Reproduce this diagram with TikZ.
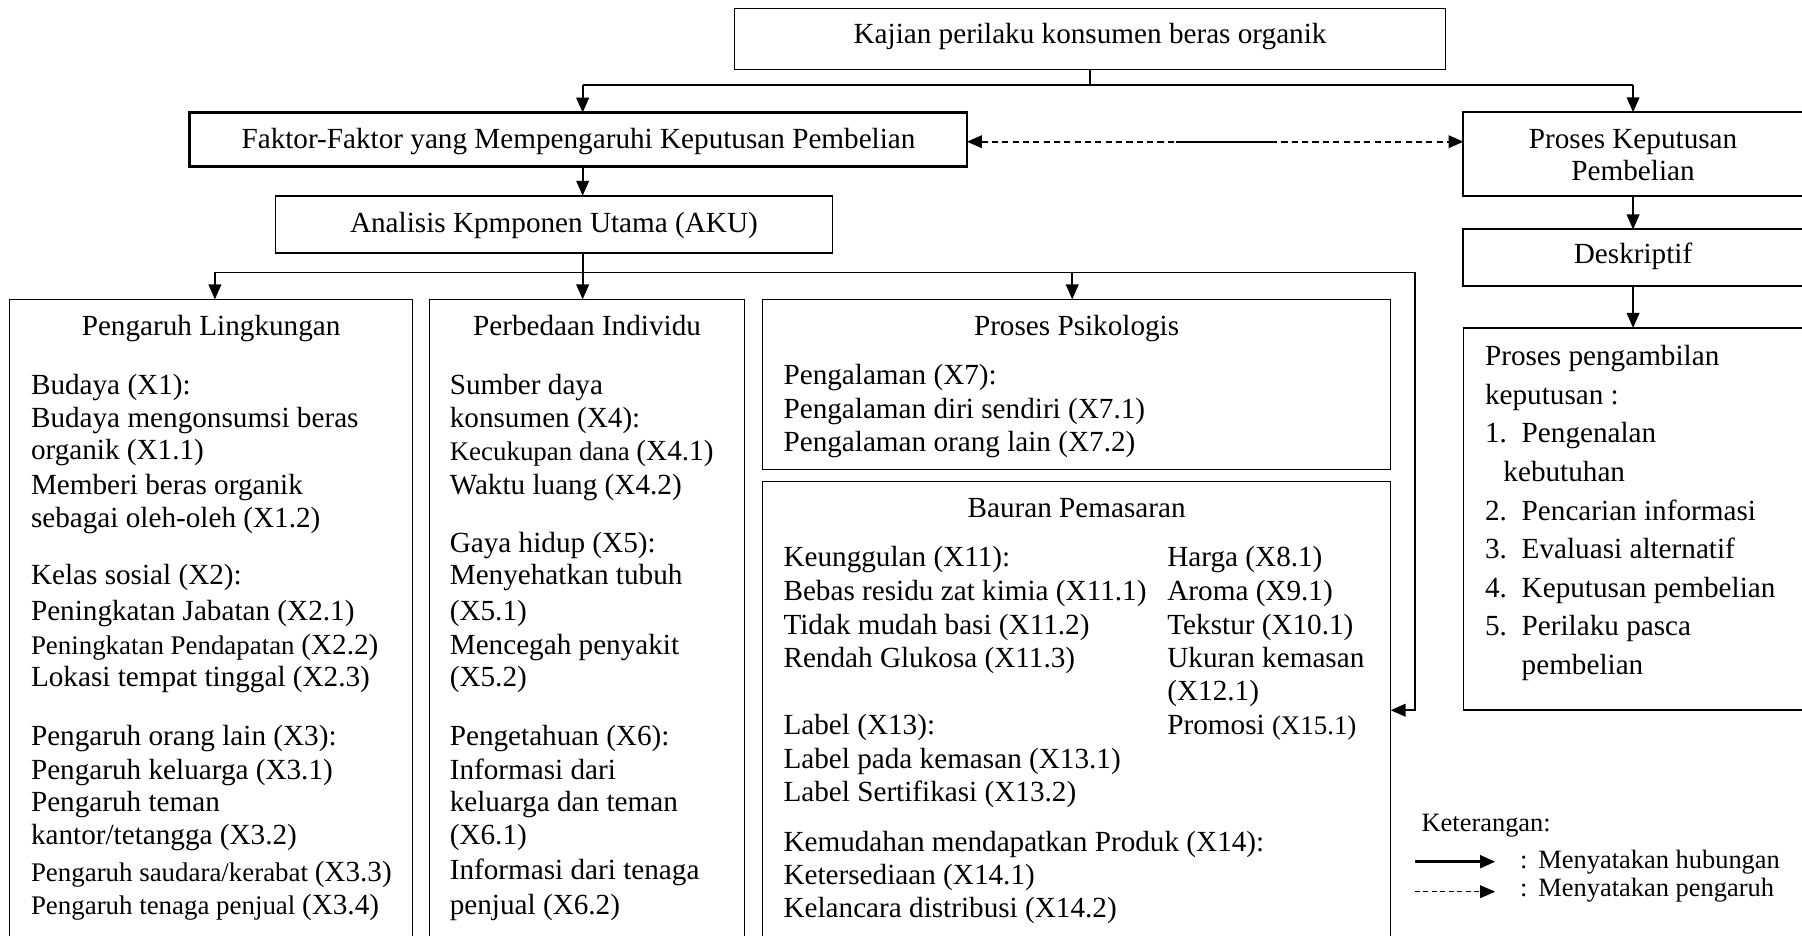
\documentclass[tikz,border=0pt]{standalone}
\usepackage{fontspec}
\setmainfont{Liberation Serif}
\usetikzlibrary{arrows.meta}
\newcommand{\bodyfs}{\fontsize{12.7}{14.5}\selectfont}
\newcommand{\smallfs}{\fontsize{11.7}{13}\selectfont}
\newcommand{\legfs}{\fontsize{11.5}{13}\selectfont}
\begin{document}
\begin{tikzpicture}[x=0.5pt,y=-0.5pt,font=\bodyfs,
  >={Triangle[length=6.5pt,width=5.5pt]},
  bx/.style={draw,line width=0.55pt,inner sep=0pt,outer sep=0pt},
  tl/.style={inner sep=0pt,outer sep=0pt,anchor=base west},
  ttl/.style={inner sep=0pt,outer sep=0pt,anchor=base},
  con/.style={line width=0.75pt},
  dsh/.style={con,dash pattern=on 2.7pt off 1.8pt},
]
\useasboundingbox (0,0) rectangle (1568,814);
\fill[white] (0,0) rectangle (1568,814);

% ---------- boxes ----------
\node[bx,line width=0.6pt,minimum width=309.5pt,minimum height=26.5pt] (kajian) at (948.5,33.8) {};
\node[bx,line width=1pt,minimum width=338.2pt,minimum height=23.5pt] (faktor) at (503.2,121.5) {};
\node[bx,line width=0.75pt,minimum width=242.3pt,minimum height=24.8pt] (aku) at (482,195.1) {};
\node[bx,line width=0.9pt,minimum width=148.8pt,minimum height=36.3pt] (pk) at (1422.2,134) {};
\node[bx,line width=0.9pt,minimum width=148.8pt,minimum height=24.5pt] (desk) at (1422.2,224.1) {};
\node[bx,line width=0.8pt,minimum width=148.8pt,minimum height=166.35pt] (pp) at (1422.2,451.65) {};
\node[bx,minimum width=175.35pt,minimum height=284.75pt] (pl) at (183.65,545.25) {};
\node[bx,minimum width=136.85pt,minimum height=284.75pt] (pi) at (510.85,545.25) {};
\node[bx,minimum width=273.2pt,minimum height=73.9pt] (ps) at (936.8,334.4) {};
\node[bx,minimum width=273.2pt,minimum height=205.45pt] (bp) at (936.8,624.55) {};

% ---------- box titles ----------
\node[ttl] (kajian-t) at (948.5,38) {Kajian perilaku konsumen beras organik};
\node[ttl] (faktor-t) at (503.4,129.6) {Faktor-Faktor yang Mempengaruhi Keputusan Pembelian};
\node[ttl] (aku-t) at (482,202) {Analisis Kpmponen Utama (AKU)};
\node[ttl] (pk-t1) at (1421,129.3) {Proses Keputusan};
\node[ttl] (pk-t2) at (1421,156.8) {Pembelian};
\node[ttl] (desk-t) at (1421,229.4) {Deskriptif};

% ---------- connectors ----------
\coordinate (ja) at (507,74);
\coordinate (jb) at (1421,74);
\draw[con] (kajian.south) -- (kajian.south |- ja);
\draw[con] (ja) -- (jb);
\draw[con,->] (ja) -- (ja |- faktor.north);
\draw[con,->] (jb) -- (jb |- pk.north);
\draw[con,->] (ja |- faktor.south) -- (ja |- aku.north);
\coordinate (jc) at (507,237);
\coordinate (jl) at (187,237);
\coordinate (jm) at (933,237);
\coordinate (jr) at (1231,237);
\coordinate (jd) at (1231,618);
\draw[con] (ja |- aku.south) -- (jc);
\draw[con] (jl) -- (jr);
\draw[con,->] (jl) -- (jl |- pl.north);
\draw[con,->] (jc) -- (jc |- pi.north);
\draw[con,->] (jm) -- (jm |- ps.north);
\draw[con,->] (jr) -- (jd) -- (jd -| bp.east);
\draw[con,->] (jb |- pk.south) -- (jb |- desk.north);
\draw[con,->] (jb |- desk.south) -- (jb |- pp.north);
\coordinate (da) at (1023.2,123.3);
\coordinate (db) at (1108.6,123.3);
\draw[dsh,<->] (faktor.east |- da) -- (pk.west |- da);
\draw[con] (da) -- (db);

% ---------- Pengaruh Lingkungan ----------
\node[ttl] (pl-t) at (183.7,292) {Pengaruh Lingkungan};
\foreach \yy/\txt [count=\i] in {343/{Budaya (X1):},372/{Budaya mengonsumsi beras},400/{organik (X1.1)},430/{Memberi beras organik},459/{sebagai oleh-oleh (X1.2)},509/{Kelas sosial (X2):},540/{Peningkatan Jabatan (X2.1)},569.5/{{\smallfs Peningkatan Pendapatan }(X2.2)},597/{Lokasi tempat tinggal (X2.3)},649/{Pengaruh orang lain (X3):},678/{Pengaruh keluarga (X3.1)},706.5/{Pengaruh teman},735/{kantor/tetangga (X3.2)},767/{{\smallfs Pengaruh saudara/kerabat }(X3.3)},796/{{\smallfs Pengaruh tenaga penjual }(X3.4)}}
  \node[tl] (pl-\i) at (27,\yy) {\txt};

% ---------- Perbedaan Individu ----------
\node[ttl] (pi-t) at (510.8,292) {Perbedaan Individu};
\foreach \yy/\txt [count=\i] in {343/{Sumber daya},372/{konsumen (X4):},401/{{\smallfs Kecukupan dana }(X4.1)},430/{Waktu luang (X4.2)},481/{Gaya hidup (X5):},509/{Menyehatkan tubuh},540/{(X5.1)},569.5/{Mencegah penyakit},597/{(X5.2)},649/{Pengetahuan (X6):},678/{Informasi dari},706.5/{keluarga dan teman},735/{(X6.1)},765.6/{Informasi dari tenaga},796/{penjual (X6.2)}}
  \node[tl] (pi-\i) at (391.4,\yy) {\txt};

% ---------- Proses Psikologis ----------
\node[ttl] (ps-t) at (936.8,292) {Proses Psikologis};
\foreach \yy/\txt [count=\i] in {334.4/{Pengalaman (X7):},364/{Pengalaman diri sendiri (X7.1)},393/{Pengalaman orang lain (X7.2)}}
  \node[tl] (ps-\i) at (681.8,\yy) {\txt};

% ---------- Bauran Pemasaran ----------
\node[ttl] (bp-t) at (936.8,450) {Bauran Pemasaran};
\foreach \yy/\txt [count=\i] in {493/{Keunggulan (X11):},522.6/{Bebas residu zat kimia (X11.1)},552.4/{Tidak mudah basi (X11.2)},581/{Rendah Glukosa (X11.3)},639/{Label (X13):},669/{Label pada kemasan (X13.1)},697.6/{Label Sertifikasi (X13.2)},740.6/{Kemudahan mendapatkan Produk (X14):},769.3/{Ketersediaan (X14.1)},798/{Kelancara distribusi (X14.2)}}
  \node[tl] (bpl-\i) at (681.8,\yy) {\txt};
\foreach \yy/\txt [count=\i] in {493/{Harga (X8.1)},522.6/{Aroma (X9.1)},552.4/{Tekstur (X10.1)},581/{Ukuran kemasan},609.7/{(X12.1)},639/{Promosi {\smallfs (X15.1)}}}
  \node[tl] (bpr-\i) at (1015.8,\yy) {\txt};

% ---------- Proses pengambilan keputusan ----------
\node[tl] (pp-a) at (1292.2,318.2) {Proses pengambilan};
\node[tl] (pp-b) at (1292.2,351.8) {keputusan :};
\foreach \yy/\num/\txt [count=\i] in {385.4/1./{Pengenalan},452.6/2./{Pencarian informasi},486.2/3./{Evaluasi alternatif},519.8/4./{Keputusan pembelian},553.4/5./{Perilaku pasca}}{
  \node[tl] (ppn-\i) at (1292.2,\yy) {\num};
  \node[tl] (ppt-\i) at (1324.1,\yy) {\txt};
}
\node[tl] (pp-c) at (1308.2,419) {kebutuhan};
\node[tl] (pp-d) at (1324.1,587) {pembelian};

% ---------- Legend ----------
\node[tl,font=\legfs] (leg) at (1237,723.7) {Keterangan:};
\coordinate (la1) at (1231,749.8);
\coordinate (la2) at (1301,749.8);
\coordinate (lb1) at (1231,775.9);
\coordinate (lb2) at (1301,775.9);
\draw[line width=1.15pt,->] (la1) -- (la2);
\draw[line width=0.6pt,dash pattern=on 2.2pt off 1.5pt,->] (lb1) -- (lb2);
\node[tl,font=\legfs] (lc1) at (1322.7,755.6) {:};
\node[tl,font=\legfs] (lt1) at (1338.6,755.6) {Menyatakan hubungan};
\node[tl,font=\legfs] (lc2) at (1322.7,780.3) {:};
\node[tl,font=\legfs] (lt2) at (1338.6,780.3) {Menyatakan pengaruh};
\end{tikzpicture}
\end{document}
